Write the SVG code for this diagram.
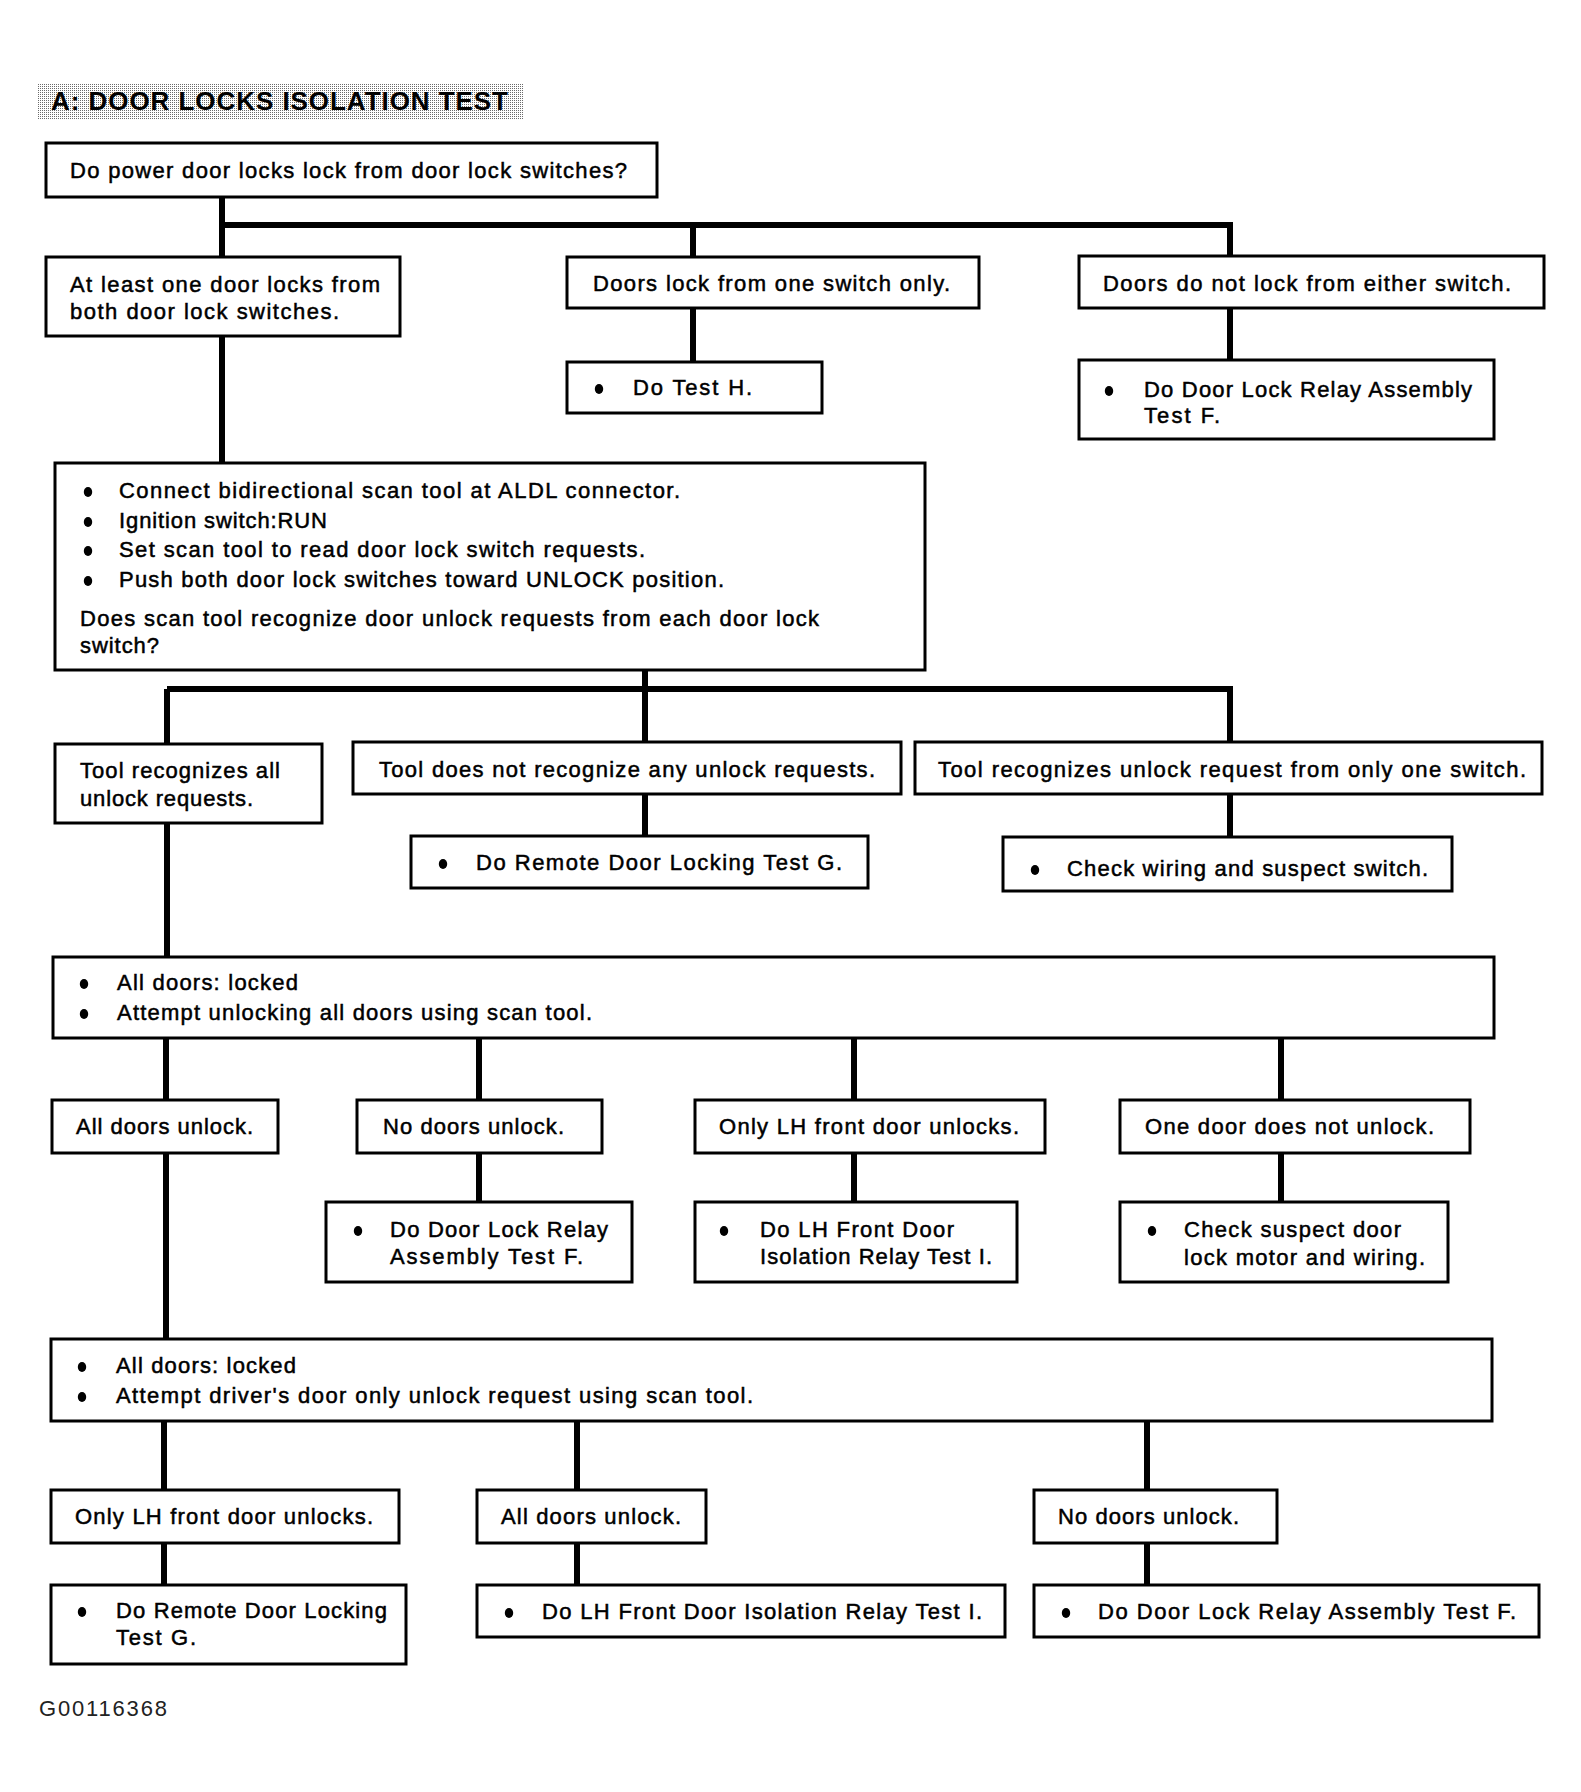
<svg xmlns="http://www.w3.org/2000/svg" xmlns:xlink="http://www.w3.org/1999/xlink" width="1581" height="1792" viewBox="0 0 1581 1792">
<style>
.bx{fill:#fff;stroke:#000;stroke-width:3}
.t{font-family:"Liberation Sans",Arial,Helvetica,sans-serif;font-size:22px;fill:#000;stroke:#000;stroke-width:0.5}
.c{stroke:#000;stroke-width:6;fill:none}
.title{font-family:"Liberation Sans",Arial,Helvetica,sans-serif;font-size:26px;font-weight:bold;fill:#000}
.foot{font-family:"Liberation Sans",Arial,Helvetica,sans-serif;font-size:22px;fill:#222}
</style>
<defs>
<pattern id="dots" width="2" height="2" patternUnits="userSpaceOnUse">
<rect width="2" height="2" fill="#fff"/>
<rect width="1" height="1" fill="#6a6a6a"/>
</pattern>
<ellipse id="bul" cx="0" cy="0" rx="4.2" ry="5" fill="#000"/>
</defs>
<rect width="1581" height="1792" fill="#fff"/>
<g id="title">
<rect x="38" y="83" width="486" height="36" fill="url(#dots)"/>
<text class="title" x="51" y="110" textLength="457" lengthAdjust="spacing">A: DOOR LOCKS ISOLATION TEST</text>
</g>
<g id="connectors">
<path class="c" d="M222 197V257M222 336V463M222 225H1230V256M693 225V257M693 308V362M1230 308V360"/>
<path class="c" d="M645 670V743M167 689H1230V742M167 689V744M645 794V836M1230 794V837M167 823V957"/>
<path class="c" d="M166 1038V1100M479 1038V1100M854 1038V1100M1281 1038V1100M479 1153V1202M854 1153V1202M1281 1153V1202M166 1153V1339"/>
<path class="c" d="M164 1421V1490M577 1421V1490M1147 1421V1490M164 1543V1585M577 1543V1585M1147 1543V1585"/>
</g>
<g id="n1"><rect class="bx" x="46" y="143" width="611" height="54"/>
<text class="t" x="70" y="178" textLength="557" lengthAdjust="spacing">Do power door locks lock from door lock switches?</text></g>
<g id="n2"><rect class="bx" x="46" y="257" width="354" height="79"/>
<text class="t" x="70" y="292" textLength="310" lengthAdjust="spacing">At least one door locks from</text>
<text class="t" x="70" y="319" textLength="269" lengthAdjust="spacing">both door lock switches.</text></g>
<g id="n3"><rect class="bx" x="567" y="257" width="412" height="51"/>
<text class="t" x="593" y="291" textLength="357" lengthAdjust="spacing">Doors lock from one switch only.</text></g>
<g id="n4"><rect class="bx" x="1079" y="256" width="465" height="52"/>
<text class="t" x="1103" y="291" textLength="408" lengthAdjust="spacing">Doors do not lock from either switch.</text></g>
<g id="n5"><rect class="bx" x="567" y="362" width="255" height="51"/>
<use xlink:href="#bul" href="#bul" x="599" y="389"/>
<text class="t" x="633" y="395" textLength="119" lengthAdjust="spacing">Do Test H.</text></g>
<g id="n6"><rect class="bx" x="1079" y="360" width="415" height="79"/>
<use xlink:href="#bul" href="#bul" x="1109" y="391"/>
<text class="t" x="1144" y="397" textLength="328" lengthAdjust="spacing">Do Door Lock Relay Assembly</text>
<text class="t" x="1144" y="423" textLength="76" lengthAdjust="spacing">Test F.</text></g>
<g id="n7"><rect class="bx" x="55" y="463" width="870" height="207"/>
<use xlink:href="#bul" href="#bul" x="88" y="492"/>
<text class="t" x="119" y="498" textLength="561" lengthAdjust="spacing">Connect bidirectional scan tool at ALDL connector.</text>
<use xlink:href="#bul" href="#bul" x="88" y="522"/>
<text class="t" x="119" y="528" textLength="208" lengthAdjust="spacing">Ignition switch:RUN</text>
<use xlink:href="#bul" href="#bul" x="88" y="551"/>
<text class="t" x="119" y="557" textLength="526" lengthAdjust="spacing">Set scan tool to read door lock switch requests.</text>
<use xlink:href="#bul" href="#bul" x="88" y="581"/>
<text class="t" x="119" y="587" textLength="605" lengthAdjust="spacing">Push both door lock switches toward UNLOCK position.</text>
<text class="t" x="80" y="626" textLength="739" lengthAdjust="spacing">Does scan tool recognize door unlock requests from each door lock</text>
<text class="t" x="80" y="653" textLength="79" lengthAdjust="spacing">switch?</text></g>
<g id="n8"><rect class="bx" x="55" y="744" width="267" height="79"/>
<text class="t" x="80" y="778" textLength="200" lengthAdjust="spacing">Tool recognizes all</text>
<text class="t" x="80" y="806" textLength="173" lengthAdjust="spacing">unlock requests.</text></g>
<g id="n9"><rect class="bx" x="353" y="742" width="548" height="52"/>
<text class="t" x="379" y="777" textLength="496" lengthAdjust="spacing">Tool does not recognize any unlock requests.</text></g>
<g id="n10"><rect class="bx" x="915" y="742" width="627" height="52"/>
<text class="t" x="938" y="777" textLength="588" lengthAdjust="spacing">Tool recognizes unlock request from only one switch.</text></g>
<g id="n11"><rect class="bx" x="411" y="836" width="457" height="52"/>
<use xlink:href="#bul" href="#bul" x="443" y="864"/>
<text class="t" x="476" y="870" textLength="366" lengthAdjust="spacing">Do Remote Door Locking Test G.</text></g>
<g id="n12"><rect class="bx" x="1003" y="837" width="449" height="54"/>
<use xlink:href="#bul" href="#bul" x="1035" y="870"/>
<text class="t" x="1067" y="876" textLength="361" lengthAdjust="spacing">Check wiring and suspect switch.</text></g>
<g id="n13"><rect class="bx" x="53" y="957" width="1441" height="81"/>
<use xlink:href="#bul" href="#bul" x="84" y="984"/>
<text class="t" x="117" y="990" textLength="181" lengthAdjust="spacing">All doors: locked</text>
<use xlink:href="#bul" href="#bul" x="84" y="1014"/>
<text class="t" x="117" y="1020" textLength="475" lengthAdjust="spacing">Attempt unlocking all doors using scan tool.</text></g>
<g id="n14"><rect class="bx" x="52" y="1100" width="226" height="53"/>
<text class="t" x="76" y="1134" textLength="177" lengthAdjust="spacing">All doors unlock.</text></g>
<g id="n15"><rect class="bx" x="357" y="1100" width="245" height="53"/>
<text class="t" x="383" y="1134" textLength="181" lengthAdjust="spacing">No doors unlock.</text></g>
<g id="n16"><rect class="bx" x="695" y="1100" width="350" height="53"/>
<text class="t" x="719" y="1134" textLength="300" lengthAdjust="spacing">Only LH front door unlocks.</text></g>
<g id="n17"><rect class="bx" x="1120" y="1100" width="350" height="53"/>
<text class="t" x="1145" y="1134" textLength="289" lengthAdjust="spacing">One door does not unlock.</text></g>
<g id="n18"><rect class="bx" x="326" y="1202" width="306" height="80"/>
<use xlink:href="#bul" href="#bul" x="358" y="1231"/>
<text class="t" x="390" y="1237" textLength="218" lengthAdjust="spacing">Do Door Lock Relay</text>
<text class="t" x="390" y="1264" textLength="193" lengthAdjust="spacing">Assembly Test F.</text></g>
<g id="n19"><rect class="bx" x="695" y="1202" width="322" height="80"/>
<use xlink:href="#bul" href="#bul" x="724" y="1231"/>
<text class="t" x="760" y="1237" textLength="194" lengthAdjust="spacing">Do LH Front Door</text>
<text class="t" x="760" y="1264" textLength="232" lengthAdjust="spacing">Isolation Relay Test I.</text></g>
<g id="n20"><rect class="bx" x="1120" y="1202" width="328" height="80"/>
<use xlink:href="#bul" href="#bul" x="1152" y="1231"/>
<text class="t" x="1184" y="1237" textLength="217" lengthAdjust="spacing">Check suspect door</text>
<text class="t" x="1184" y="1265" textLength="241" lengthAdjust="spacing">lock motor and wiring.</text></g>
<g id="n21"><rect class="bx" x="51" y="1339" width="1441" height="82"/>
<use xlink:href="#bul" href="#bul" x="82" y="1367"/>
<text class="t" x="116" y="1373" textLength="180" lengthAdjust="spacing">All doors: locked</text>
<use xlink:href="#bul" href="#bul" x="82" y="1397"/>
<text class="t" x="116" y="1403" textLength="637" lengthAdjust="spacing">Attempt driver's door only unlock request using scan tool.</text></g>
<g id="n22"><rect class="bx" x="51" y="1490" width="348" height="53"/>
<text class="t" x="75" y="1524" textLength="298" lengthAdjust="spacing">Only LH front door unlocks.</text></g>
<g id="n23"><rect class="bx" x="477" y="1490" width="229" height="53"/>
<text class="t" x="501" y="1524" textLength="180" lengthAdjust="spacing">All doors unlock.</text></g>
<g id="n24"><rect class="bx" x="1034" y="1490" width="243" height="53"/>
<text class="t" x="1058" y="1524" textLength="181" lengthAdjust="spacing">No doors unlock.</text></g>
<g id="n25"><rect class="bx" x="51" y="1585" width="355" height="79"/>
<use xlink:href="#bul" href="#bul" x="82" y="1612"/>
<text class="t" x="116" y="1618" textLength="271" lengthAdjust="spacing">Do Remote Door Locking</text>
<text class="t" x="116" y="1645" textLength="80" lengthAdjust="spacing">Test G.</text></g>
<g id="n26"><rect class="bx" x="477" y="1585" width="528" height="52"/>
<use xlink:href="#bul" href="#bul" x="509" y="1613"/>
<text class="t" x="542" y="1619" textLength="440" lengthAdjust="spacing">Do LH Front Door Isolation Relay Test I.</text></g>
<g id="n27"><rect class="bx" x="1034" y="1585" width="505" height="52"/>
<use xlink:href="#bul" href="#bul" x="1066" y="1613"/>
<text class="t" x="1098" y="1619" textLength="418" lengthAdjust="spacing">Do Door Lock Relay Assembly Test F.</text></g>
<g id="footer">
<text class="foot" x="39" y="1716" textLength="128" lengthAdjust="spacing">G00116368</text>
</g>
</svg>
